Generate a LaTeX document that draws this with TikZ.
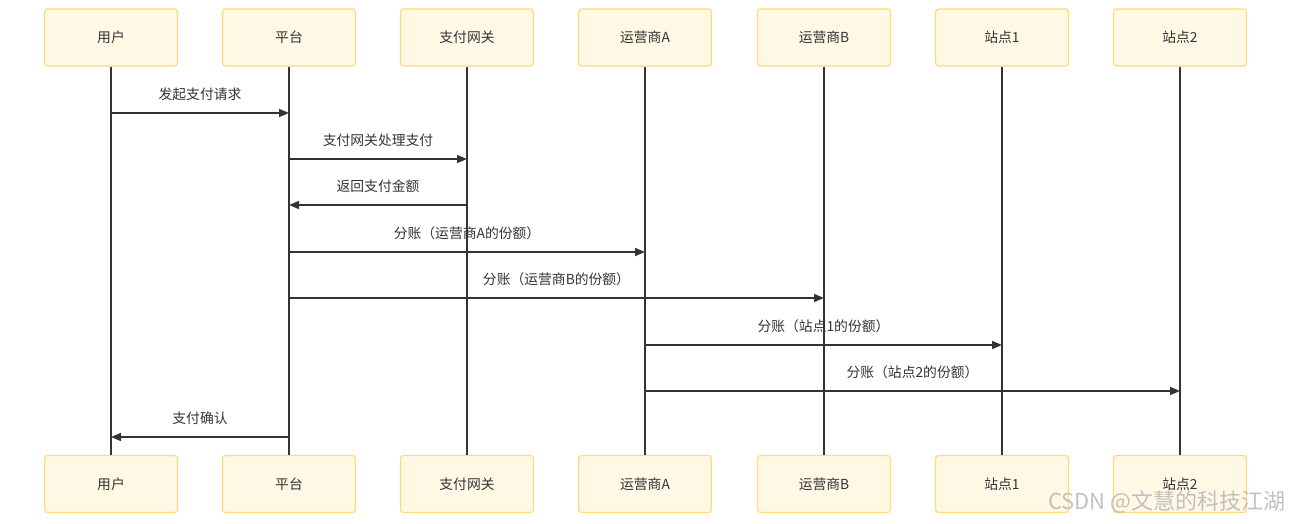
\documentclass[tikz,border=0pt]{standalone}
\usepackage{fontspec}
\setmainfont{Noto Sans CJK SC}
\usepackage{xcolor}
\usetikzlibrary{arrows.meta}
\usetikzlibrary{math}

\definecolor{boxfill}{HTML}{FFF8E5}
\definecolor{boxline}{HTML}{FFD97A}
\definecolor{wire}{HTML}{333333}

\tikzset{
  actor/.style={draw=boxline, fill=boxfill, line width=1.2, rounded corners=3,
    minimum width=133, minimum height=57, inner sep=0,
    font=\fontsize{13.8}{16}\selectfont, text=wire},
  life/.style={draw=wire, line width=2},
  msg/.style={draw=wire, line width=1.6, -{Triangle[length=10,width=8]}},
  msgtxt/.style={font=\fontsize{13.8}{16}\selectfont, text=wire, above=8}
}

\begin{document}
\begin{tikzpicture}[x=1pt,y=-1pt]
\tikzmath{
\xa=111; \xb=289; \xc=467; \xd=645; \xe=824; \xf=1002; \xg=1180;
\yt=37.5;
\yb=484;
}
\useasboundingbox (0,0) rectangle (1292,524);

% heads and feet
\node[actor] (user)  at (\xa,\yt) {用户};
\node[actor] (plat)  at (\xb,\yt) {平台};
\node[actor] (gate)  at (\xc,\yt) {支付网关};
\node[actor] (opA)   at (\xd,\yt) {运营商A};
\node[actor] (opB)   at (\xe,\yt) {运营商B};
\node[actor] (st1)   at (\xf,\yt) {站点1};
\node[actor] (st2)   at (\xg,\yt) {站点2};

\node[actor] (userB) at (\xa,\yb) {用户};
\node[actor] (platB) at (\xb,\yb) {平台};
\node[actor] (gateB) at (\xc,\yb) {支付网关};
\node[actor] (opAB)  at (\xd,\yb) {运营商A};
\node[actor] (opBB)  at (\xe,\yb) {运营商B};
\node[actor] (st1B)  at (\xf,\yb) {站点1};
\node[actor] (st2B)  at (\xg,\yb) {站点2};

% messages
\draw[msg] (user.south |- 0,113) -- (plat.south |- 0,113) node[midway,msgtxt]{发起支付请求};
\draw[msg] (plat.south |- 0,159) -- (gate.south |- 0,159) node[midway,msgtxt]{支付网关处理支付};
\draw[msg] (gate.south |- 0,205) -- (plat.south |- 0,205) node[midway,msgtxt]{返回支付金额};
\draw[msg] (plat.south |- 0,252) -- (opA.south |- 0,252) node[midway,msgtxt]{分账（运营商A的份额）};
\draw[msg] (plat.south |- 0,298) -- (opB.south |- 0,298) node[midway,msgtxt]{分账（运营商B的份额）};
\draw[msg] (opA.south |- 0,345) -- (st1.south |- 0,345) node[midway,msgtxt]{分账（站点1的份额）};
\draw[msg] (opA.south |- 0,391) -- (st2.south |- 0,391) node[midway,msgtxt]{分账（站点2的份额）};
\draw[msg] (plat.south |- 0,437) -- (user.south |- 0,437) node[midway,msgtxt]{支付确认};

% lifelines
\draw[life] (user) -- (userB);
\draw[life] (plat) -- (platB);
\draw[life] (gate) -- (gateB);
\draw[life] (opA) -- (opAB);
\draw[life] (opB) -- (opBB);
\draw[life] (st1) -- (st1B);
\draw[life] (st2) -- (st2B);

\node[text=gray!60, opacity=0.8, font=\fontsize{22}{25}\selectfont, anchor=east] (mark) at (1289,502) {CSDN @文慧的科技江湖};
\end{tikzpicture}
\end{document}
